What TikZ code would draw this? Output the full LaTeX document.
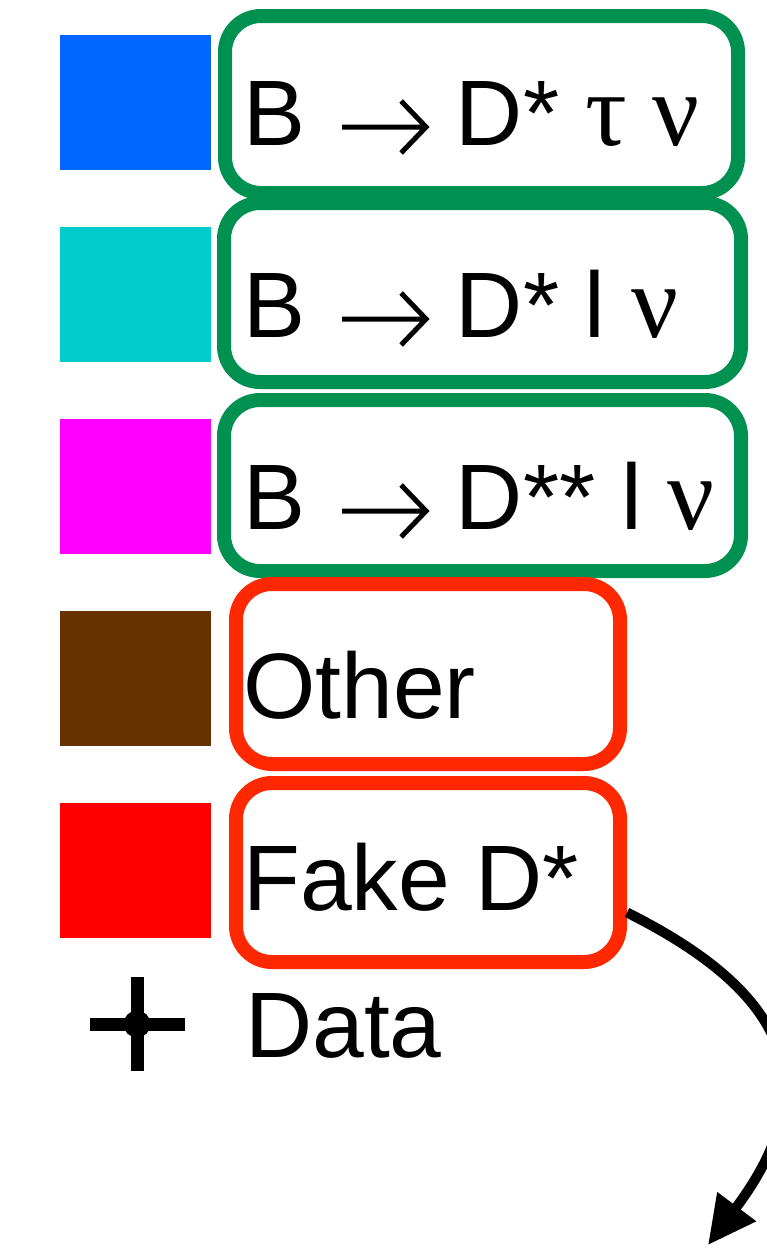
\documentclass[tikz,border=0pt]{standalone}
\usepackage{fontspec}
\setmainfont{Liberation Sans}
\newfontfamily\greekfont{Liberation Serif}
\usetikzlibrary{arrows.meta,calc}

\definecolor{sigblue}{RGB}{0,102,255}
\definecolor{normcyan}{RGB}{0,204,204}
\definecolor{dssmag}{RGB}{255,0,255}
\definecolor{othbrown}{RGB}{102,51,0}
\definecolor{fakered}{RGB}{255,0,0}
\definecolor{passgreen}{RGB}{0,145,80}
\definecolor{failred}{RGB}{255,40,0}

% decay arrow (thin shaft, open head) and greek letters of the channel names
\newcommand{\decayto}{\tikz[baseline=0pt, x=1pt, y=1pt]{%
  \useasboundingbox (0,0) rectangle (99,1);
  \draw[line width=5pt, line join=miter] (11,18) -- (95,18) (70,44) -- (95,18) -- (70,-8);}}
\newcommand{\gk}[1]{{\greekfont\fontsize{104}{100}\selectfont #1}}

\begin{document}
\begin{tikzpicture}[
  x=1pt, y=-1pt,
  >=Stealth,
  swatch/.style={draw=none, inner sep=0pt, minimum width=151pt, minimum height=135pt},
  passbox/.style={draw=passgreen, line width=14pt, rounded corners=36pt, inner sep=0pt},
  failbox/.style={draw=failred, line width=14pt, rounded corners=36pt, inner sep=0pt},
  entry/.style={anchor=base west, inner sep=0pt, font=\fontsize{93}{100}\selectfont},
]
\useasboundingbox (0,0) rectangle (767,1253);

% colour swatches, one per row
\node[swatch, fill=sigblue]  (sw1) at (135.5,102.5) {};
\node[swatch, fill=normcyan] (sw2) at (135.5,294.5) {};
\node[swatch, fill=dssmag]   (sw3) at (135.5,486.5) {};
\node[swatch, fill=othbrown] (sw4) at (135.5,678.5) {};
\node[swatch, fill=fakered]  (sw5) at (135.5,870.5) {};

% framed groups: signal + normalisation (green), backgrounds (red)
\node[passbox, minimum width=513pt, minimum height=177pt] (taubox)  at (481.5,104.5) {};
\node[passbox, minimum width=517pt, minimum height=179pt] (ellbox)  at (482.5,292.5) {};
\node[passbox, minimum width=517pt, minimum height=171pt] (dssbox)  at (482.5,485.5) {};
\node[failbox, minimum width=384pt, minimum height=180pt] (othbox)  at (428,674) {};
\node[failbox, minimum width=384pt, minimum height=179pt] (fakebox) at (428,872.5) {};

% row labels
\node[entry] (lbltau)  at (243,145) {B \decayto{} D* \gk{τ ν}};
\node[entry] (lblell)  at (243,337) {B \decayto{} D* l \gk{ν}};
\node[entry] (lbldss)  at (243,529) {B \decayto{} D** l \gk{ν}};
\node[entry] (lbloth)  at (243,718) {Other};
\node[entry] (lblfake) at (243,910) {Fake D*};
\node[entry] (lbldata) at (245,1057) {Data};

% data marker: error-bar cross with a dot
\node[circle, fill=black, inner sep=0pt, minimum size=27pt] (datadot) at (137,1024) {};
\draw[line width=13pt] (90,1024) -- (185,1024);
\draw[line width=13pt] (137,977) -- (137,1071);

% curved pointer leaving the fake box
\coordinate (fakeout) at ($(fakebox.east)+(0,40)$);
\coordinate (ptrend) at (708,1245);
\draw[->, line width=10pt, >={Triangle[length=48pt, width=46pt]}]
  (fakeout) .. controls (788,993) and (828,1085) .. (ptrend);

\end{tikzpicture}
\end{document}
